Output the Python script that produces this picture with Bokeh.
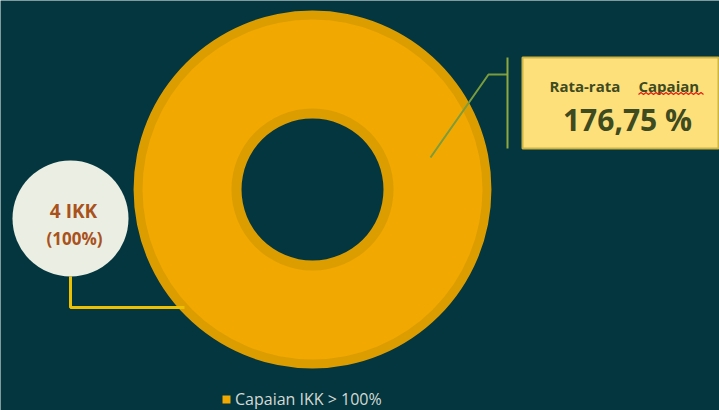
import math
from bokeh.plotting import figure
from bokeh.models import Range1d, Legend, LegendItem, ColumnDataSource
from bokeh.core.properties import value
from bokeh.embed import file_html
from bokeh.resources import INLINE

# ---- data ----
categories = ["Capaian IKK > 100%"]
counts = [4]
percents = [100]
average_label_words = ["Rata-rata", "Capaian"]
average_value = 176.75

W, H = 719, 410
BG = "#03363F"
ORANGE = "#F1A800"
ORANGE_DARK = "#DC9D00"
FONT = value("Open Sans")

p = figure(width=W, height=H, output_backend="svg", toolbar_location=None,
           x_range=Range1d(0, W), y_range=Range1d(0, H), min_border=0)
p.axis.visible = False
p.grid.visible = False
p.outline_line_color = None
p.background_fill_color = BG
p.border_fill_color = BG

total = sum(counts)
starts, ends = [], []
acc = 0.0
for c in counts:
    starts.append(math.pi / 2 - 2 * math.pi * (acc + c) / total)
    ends.append(math.pi / 2 - 2 * math.pi * acc / total)
    acc += c
src = ColumnDataSource(dict(cat=categories, val=counts, start=starts, end=ends,
                            x=[312] * len(counts), y=[221] * len(counts)))

# darker rim
p.annular_wedge(x="x", y="y", inner_radius=71, outer_radius=179, start_angle="start",
                end_angle="end", source=src, fill_color=ORANGE_DARK, line_color=None)
main = p.annular_wedge(x="x", y="y", inner_radius=81, outer_radius=170, start_angle="start",
                       end_angle="end", source=src, fill_color=ORANGE, line_color=None)

# left callout
p.line(x=[70, 70, 184], y=[134, 103, 103], line_color="#EEC000", line_width=3)
p.circle(x=[70], y=[192], radius=58, fill_color="#EBEFE3", line_color=None)
p.text(x=[73], y=[200], text=[f"{counts[0]} IKK"], text_font=FONT,
       text_font_style="bold", text_font_size="19px", text_color="#A9521C",
       text_align="center", text_baseline="middle")
p.text(x=[74], y=[172], text=[f"({percents[0]}%)"], text_font=FONT,
       text_font_style="bold", text_font_size="17px", text_color="#A9521C",
       text_align="center", text_baseline="middle")

# right callout
p.line(x=[430, 488, 507], y=[253, 336, 336], line_color="#7A9C3C", line_width=2)
p.line(x=[507, 507], y=[353, 262], line_color="#8FA840", line_width=2)
p.rect(x=[620], y=[307.5], width=196, height=91, fill_color="#FEE07B",
       line_color="#CDB443", line_width=2)
p.text(x=[549, 638], y=[325, 325], text=average_label_words, text_font=FONT,
       text_font_style="bold", text_font_size="15px", text_color="#3E4A20",
       text_align="left", text_baseline="middle")
# spell-check squiggle under "Capaian"
sq_x = [638 + i * 2.5 for i in range(27)]
sq_y = [317 + (1 if i % 2 else -1) for i in range(27)]
p.line(x=sq_x, y=sq_y, line_color="#E0201A", line_width=1.2)
p.text(x=[627], y=[291], text=[f"{average_value:.2f}".replace(".", ",") + " %"],
       text_font=FONT, text_font_style="bold", text_font_size="30px",
       text_color="#3E4A20", text_align="center", text_baseline="middle")

legend = Legend(items=[LegendItem(label=categories[0], renderers=[main])],
                location=(221, 0), orientation="horizontal",
                background_fill_alpha=0, border_line_color=None,
                label_text_color="#D4D9D4", label_text_font="Open Sans",
                label_text_font_size="16px", glyph_width=10, glyph_height=10,
                label_standoff=4, padding=4, margin=0)
p.add_layout(legend)

open("out.html", "w").write(file_html(p, INLINE))
